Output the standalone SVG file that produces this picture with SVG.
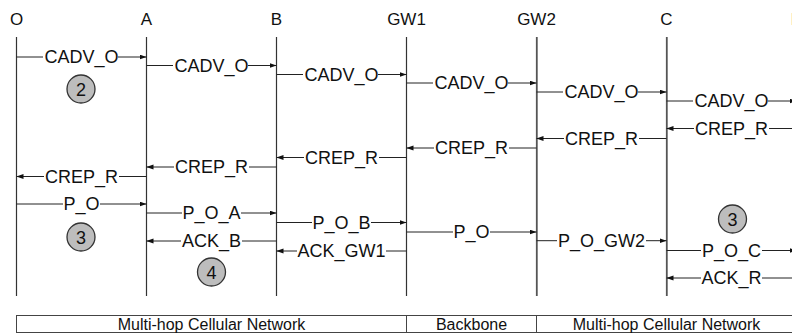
<svg xmlns="http://www.w3.org/2000/svg" width="792" height="333" viewBox="0 0 792 333">
  <defs>
    <marker id="arrow" markerWidth="7" markerHeight="6" refX="7" refY="2.5" orient="auto" markerUnits="userSpaceOnUse">
      <path d="M0,0 L7,2.5 L0,5 Z" fill="#111"/>
    </marker>
  </defs>
  <style>
    .hdr { font-family: "Liberation Sans", Arial, sans-serif; font-size: 17px; fill: #111; text-anchor: middle; }
    .life { stroke: #333; stroke-width: 1.2; }
    .life2 { stroke: #555; stroke-width: 1.8; }
    .msg line { stroke: #222; stroke-width: 1; marker-end: url(#arrow); }
    .msg rect { fill: #fff; }
    .msg text { font-family: "Liberation Sans", Arial, sans-serif; font-size: 18px; fill: #111; text-anchor: middle; }
    .step circle { fill: #bdbdbd; stroke: #333; stroke-width: 1.3; }
    .step text { font-family: "Liberation Sans", Arial, sans-serif; font-size: 18px; fill: #111; text-anchor: middle; }
    .band rect, .band line { fill: none; stroke: #444; stroke-width: 1; }
    .band text { font-family: "Liberation Sans", Arial, sans-serif; font-size: 16px; fill: #111; text-anchor: middle; }
  </style>
  <rect width="792" height="333" fill="#fff"/>

  <!-- lifelines with their headers -->
  <g id="node-O"><text class="hdr" x="16.5" y="25">O</text><line class="life" x1="16.5" y1="37" x2="16.5" y2="296"/></g>
  <g id="node-A"><text class="hdr" x="146.5" y="25">A</text><line class="life" x1="146.5" y1="37" x2="146.5" y2="296"/></g>
  <g id="node-B"><text class="hdr" x="276.5" y="25">B</text><line class="life" x1="276.5" y1="37" x2="276.5" y2="296"/></g>
  <g id="node-GW1"><text class="hdr" x="406.5" y="25">GW1</text><line class="life" x1="406.5" y1="37" x2="406.5" y2="296"/></g>
  <g id="node-GW2"><text class="hdr" x="536.5" y="25">GW2</text><line class="life2" x1="536.8" y1="37" x2="536.8" y2="296"/></g>
  <g id="node-C"><text class="hdr" x="666.5" y="25">C</text><line class="life2" x1="666.8" y1="37" x2="666.8" y2="296"/></g>
  <g id="node-D"><text class="hdr" x="797" y="25">D</text><line class="life" x1="796.5" y1="37" x2="796.5" y2="296"/></g>

  <!-- messages -->
  <g id="connectors">
    <!-- route advertisement, forward -->
    <g class="msg"><line x1="16.5" y1="57" x2="146.5" y2="57"/><rect x="43" y="54" width="75" height="6"/><text x="81.5" y="63.4">CADV_O</text></g>
    <g class="msg"><line x1="146.5" y1="65.5" x2="276.5" y2="65.5"/><rect x="173" y="62.5" width="75" height="6"/><text x="211.5" y="71.9">CADV_O</text></g>
    <g class="msg"><line x1="276.5" y1="74.5" x2="406.5" y2="74.5"/><rect x="303" y="71.5" width="75" height="6"/><text x="341.5" y="80.9">CADV_O</text></g>
    <g class="msg"><line x1="406.5" y1="83" x2="536.5" y2="83"/><rect x="433" y="80" width="75" height="6"/><text x="471.5" y="89.4">CADV_O</text></g>
    <g class="msg"><line x1="536.5" y1="92" x2="666.5" y2="92"/><rect x="563" y="89" width="75" height="6"/><text x="601.5" y="98.4">CADV_O</text></g>
    <g class="msg"><line x1="666.5" y1="101" x2="796.5" y2="101"/><rect x="693" y="98" width="75" height="6"/><text x="731.5" y="107.4">CADV_O</text></g>

    <!-- route reply, backward -->
    <g class="msg"><line x1="796.5" y1="128.5" x2="666.5" y2="128.5"/><rect x="694" y="125.5" width="75" height="6"/><text x="731.5" y="134.9">CREP_R</text></g>
    <g class="msg"><line x1="666.5" y1="138.5" x2="536.5" y2="138.5"/><rect x="564" y="135.5" width="75" height="6"/><text x="601.5" y="144.9">CREP_R</text></g>
    <g class="msg"><line x1="536.5" y1="148" x2="406.5" y2="148"/><rect x="434" y="145" width="75" height="6"/><text x="471.5" y="154.4">CREP_R</text></g>
    <g class="msg"><line x1="406.5" y1="157.5" x2="276.5" y2="157.5"/><rect x="304" y="154.5" width="75" height="6"/><text x="341.5" y="163.9">CREP_R</text></g>
    <g class="msg"><line x1="276.5" y1="167" x2="146.5" y2="167"/><rect x="174" y="164" width="75" height="6"/><text x="211.5" y="173.4">CREP_R</text></g>
    <g class="msg"><line x1="146.5" y1="176.5" x2="16.5" y2="176.5"/><rect x="44" y="173.5" width="75" height="6"/><text x="81.5" y="182.9">CREP_R</text></g>

    <!-- data packets, forward -->
    <g class="msg"><line x1="16.5" y1="204" x2="146.5" y2="204"/><rect x="63" y="201" width="37" height="6"/><text x="81.5" y="210.4">P_O</text></g>
    <g class="msg"><line x1="146.5" y1="213" x2="276.5" y2="213"/><rect x="182" y="210" width="59" height="6"/><text x="211.5" y="219.4">P_O_A</text></g>
    <g class="msg"><line x1="276.5" y1="222.5" x2="406.5" y2="222.5"/><rect x="312" y="219.5" width="59" height="6"/><text x="341.5" y="228.9">P_O_B</text></g>
    <g class="msg"><line x1="406.5" y1="232" x2="536.5" y2="232"/><rect x="453" y="229" width="37" height="6"/><text x="471.5" y="238.4">P_O</text></g>
    <g class="msg"><line x1="536.5" y1="240.7" x2="666.5" y2="240.7"/><rect x="557" y="237.7" width="89" height="6"/><text x="601.5" y="247.1">P_O_GW2</text></g>
    <g class="msg"><line x1="666.5" y1="250.5" x2="796.5" y2="250.5"/><rect x="701" y="247.5" width="61" height="6"/><text x="731.5" y="256.9">P_O_C</text></g>

    <!-- acknowledgements, backward -->
    <g class="msg"><line x1="276.5" y1="241" x2="146.5" y2="241"/><rect x="181" y="238" width="61" height="6"/><text x="211.5" y="247.4">ACK_B</text></g>
    <g class="msg"><line x1="406.5" y1="251" x2="276.5" y2="251"/><rect x="297" y="248" width="89" height="6"/><text x="341.5" y="257.4">ACK_GW1</text></g>
    <g class="msg"><line x1="796.5" y1="278" x2="666.5" y2="278"/><rect x="701" y="275" width="61" height="6"/><text x="731.5" y="284.4">ACK_R</text></g>
  </g>

  <!-- numbered step markers -->
  <g id="step-2" class="step"><circle cx="81" cy="89" r="14"/><text x="81" y="95.5">2</text></g>
  <g id="step-3a" class="step"><circle cx="81" cy="237" r="14"/><text x="81" y="243.5">3</text></g>
  <g id="step-4" class="step"><circle cx="211.5" cy="272" r="14"/><text x="211.5" y="278.5">4</text></g>
  <g id="step-3b" class="step"><circle cx="732.5" cy="219" r="14"/><text x="732.5" y="225.5">3</text></g>

  <!-- network segments band -->
  <g id="segments" class="band">
    <rect x="16.5" y="315.5" width="781" height="17"/>
    <line x1="406.5" y1="315.5" x2="406.5" y2="332.5"/>
    <line x1="536.5" y1="315.5" x2="536.5" y2="332.5"/>
    <text x="211.5" y="329.5">Multi-hop Cellular Network</text>
    <text x="471.5" y="329.5">Backbone</text>
    <text x="666.5" y="329.5">Multi-hop Cellular Network</text>
  </g>
</svg>
